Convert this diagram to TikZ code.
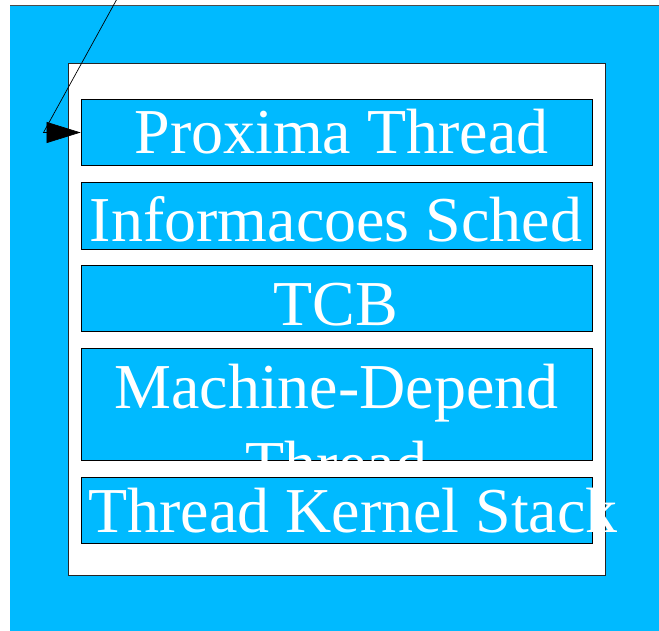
\documentclass[tikz,border=0pt]{standalone}
\usepackage{fontspec}
\setmainfont{Liberation Serif}
\usetikzlibrary{arrows.meta}
\definecolor{skyfill}{RGB}{0,186,255}
\tikzset{
  stackbox/.style={draw=black, line width=0.8pt, fill=skyfill, minimum width=511pt, inner sep=0pt},
  lbl/.style={text=white, inner sep=0pt, font=\fontsize{64}{77}\selectfont},
  pointer/.style={draw=black, line width=0.7pt, -{Triangle[length=34pt,width=21pt]}}
}
\begin{document}
\begin{tikzpicture}[x=1pt,y=-1pt]
  \useasboundingbox (0,0) rectangle (659,631);
  % outer frame
  \fill[skyfill] (10,5.5) rectangle (665,636);
  \draw[black!70, line width=0.8pt] (10,5.5) -- (665,5.5);
  % inner white panel
  \node[draw=black!85, fill=white, line width=0.8pt, minimum width=537.5pt, minimum height=511.5pt, inner sep=0pt] (panel) at (336.75,319.25) {};
  % stacked fields
  \node[stackbox, minimum height=66.5pt] (b1) at (336.5,132.5) {};
  \node[stackbox, minimum height=66.5pt] (b2) at (336.5,215.8) {};
  \node[stackbox, minimum height=66pt] (b3) at (336.5,298.7) {};
  \node[stackbox, minimum height=111.5pt] (b4) at (336.5,404.3) {};
  \node[stackbox, minimum height=66pt] (b5) at (336.5,510.3) {};
  \node[lbl, anchor=base] (t1) at (341.5,154) {Proxima Thread};
  \node[lbl, anchor=base] (t2) at (336,241.7) {Informacoes Sched};
  \node[lbl, anchor=base] (t3) at (336,326) {TCB};
  % the two-line label is cut off at the bottom edge of its field
  \begin{scope}
    \clip (b4.north west) rectangle (b4.south east);
    \node[lbl, anchor=base] (t4a) at (336.5,408) {Machine-Depend};
    \node[lbl, anchor=base] (t4b) at (336.5,485) {Thread};
  \end{scope}
  \node[lbl, anchor=base west] (t5) at (88,532) {Thread Kernel Stack};
  % incoming pointer
  \coordinate (src) at (117.5,-2);
  \coordinate (bend) at (43.5,132.5);
  \path[pointer] (src) -- (bend) -- (b1.west);
\end{tikzpicture}
\end{document}
